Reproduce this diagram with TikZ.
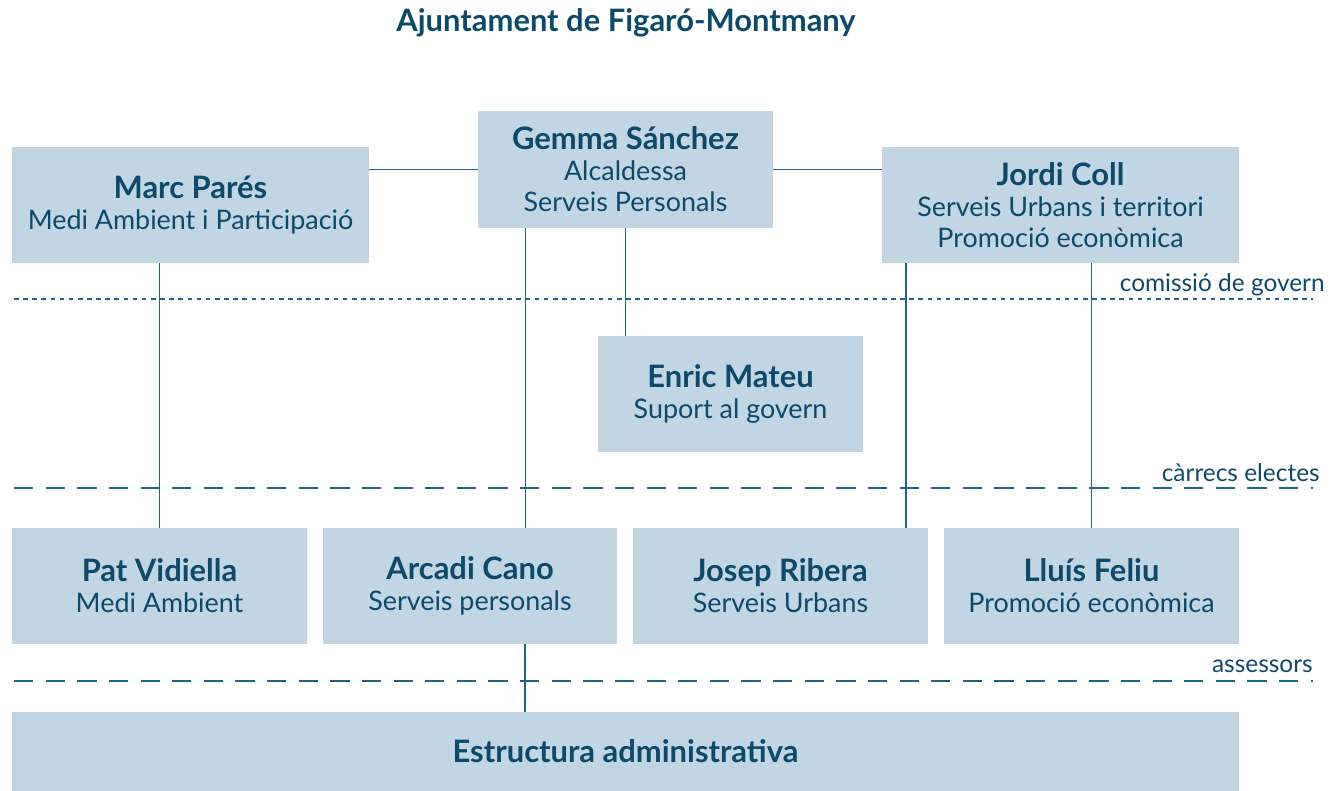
\documentclass[tikz,border=0pt]{standalone}
\usepackage{fontspec}
\setmainfont{Lato}
\usetikzlibrary{positioning}

\definecolor{inkblue}{HTML}{0B4A6B}
\definecolor{boxblue}{HTML}{C2D5E3}
\definecolor{lineblue}{HTML}{1F6585}

\tikzset{
	carrec/.style={fill=boxblue, inner sep=0pt, align=center, text=inkblue,
		font=\fontsize{15.3}{17.6}\selectfont},
	linia/.style={draw=lineblue, line width=0.9pt},
	nivell/.style={draw=lineblue, line width=0.9pt, dash pattern=on 11pt off 7pt},
	govern/.style={draw=lineblue, line width=0.9pt, dash pattern=on 2.6pt off 2.6pt},
	etiqueta/.style={anchor=east, text=inkblue, inner sep=0pt,
		font=\fontsize{13.9}{16}\selectfont}
}
\newcommand{\nom}[1]{{\fontsize{17.6}{18}\selectfont\bfseries #1}}

\begin{document}
\begin{tikzpicture}[x=0.02cm, y=-0.02cm]
	\useasboundingbox (0,0) rectangle (1339,791);

	% titol
	\node[text=inkblue, font=\fontsize{17.6}{20}\selectfont\bfseries] (titol) at (626,23) {Ajuntament de Figaró-Montmany};

	% comissio de govern
	\node[carrec, minimum width=5.9cm, minimum height=2.34cm] (gemma) at (625.5,169.5)
		{\nom{Gemma Sánchez}\\Alcaldessa\\Serveis Personals};
	\node[carrec, minimum width=7.14cm, minimum height=2.32cm] (marc) at (190.5,205)
		{\nom{Marc Parés}\\Medi Ambient i Participació};
	\node[carrec, minimum width=7.14cm, minimum height=2.32cm] (jordi) at (1060.5,205)
		{\nom{Jordi Coll}\\Serveis Urbans i territori\\Promoció econòmica};
	\node[carrec, minimum width=5.3cm, minimum height=2.32cm] (enric) at (730.5,394)
		{\nom{Enric Mateu}\\Suport al govern};

	% carrecs electes
	\node[carrec, minimum width=5.9cm, minimum height=2.32cm] (pat) at (159.5,586)
		{\nom{Pat Vidiella}\\Medi Ambient};
	\node[carrec, minimum width=5.9cm, minimum height=2.32cm] (arcadi) at (470,586)
		{\nom{Arcadi Cano}\\Serveis personals};
	\node[carrec, minimum width=5.9cm, minimum height=2.32cm] (josep) at (780.5,586)
		{\nom{Josep Ribera}\\Serveis Urbans};
	\node[carrec, minimum width=5.9cm, minimum height=2.32cm] (lluis) at (1091.5,586)
		{\nom{Lluís Feliu}\\Promoció econòmica};

	% estructura
	\node[carrec, minimum width=24.54cm, minimum height=1.58cm] (estructura) at (625.5,751.5)
		{\nom{Estructura administrativa}};

	% linies de nivell
	\coordinate (g1) at (14,299);
	\coordinate (g2) at (1313,299);
	\coordinate (e1) at (14,488);
	\coordinate (e2) at (1313,488);
	\coordinate (a1) at (14,681);
	\coordinate (a2) at (1313,681);
	\draw[govern] (g1) -- (g2);
	\draw[nivell] (e1) -- (e2);
	\draw[nivell] (a1) -- (a2);
	\node[etiqueta] (lgovern) at (1325,285) {comissió de govern};
	\node[etiqueta] (lelectes) at (1320,473) {càrrecs electes};
	\node[etiqueta] (lassessors) at (1313,666) {assessors};

	% connexions
	\draw[linia] (marc.east |- gemma.west) -- (gemma.west);
	\draw[linia] (gemma.east) -- (gemma.east -| jordi.west);
	\draw[linia] (pat.north |- marc.south) -- (pat.north);
	\draw[linia] ([xshift=-2cm]gemma.south) -- ([xshift=-2cm]gemma.south |- arcadi.north);
	\draw[linia] (gemma.south) -- (gemma.south |- enric.north);
	\draw[linia] ([xshift=-3.09cm]jordi.south) -- ([xshift=-3.09cm]jordi.south |- josep.north);
	\draw[linia] (lluis.north |- jordi.south) -- (lluis.north);
	\draw[linia] ([xshift=1.1cm]arcadi.south) -- ([xshift=1.1cm]arcadi.south |- estructura.north);
\end{tikzpicture}
\end{document}
